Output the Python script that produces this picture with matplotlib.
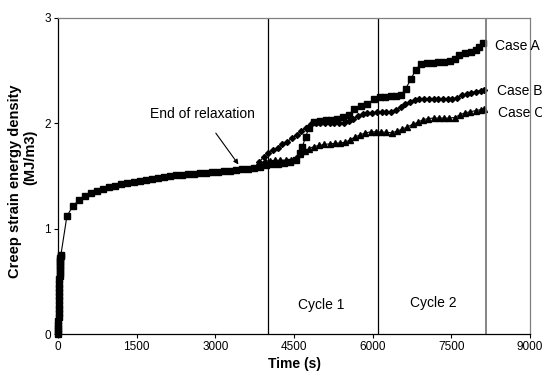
import matplotlib
matplotlib.use('Agg')
import matplotlib.pyplot as plt

plt.rcParams['font.family'] = ['Liberation Sans', 'DejaVu Sans']

# shared part (relaxation + hold), drawn with the Case A squares
t_shared = [0, 2, 4, 6, 8, 10, 12, 14, 16, 18, 20, 22, 24, 26, 28, 30, 32, 34, 36,
            38, 40, 43, 46, 50, 55,
            170, 290, 405, 520, 635, 750, 865, 980, 1095, 1210, 1325, 1440, 1555,
            1670, 1785, 1900, 2015, 2130, 2245, 2360, 2475, 2590, 2705, 2820, 2935,
            3050, 3165, 3280, 3395, 3510, 3625, 3740, 3855, 3970]
y_shared = [0.0, 0.03, 0.06, 0.09, 0.12, 0.16, 0.2, 0.24, 0.28, 0.32, 0.36, 0.4,
            0.44, 0.48, 0.52, 0.55, 0.58, 0.61, 0.64, 0.66, 0.68, 0.70, 0.72, 0.74,
            0.75,
            1.12, 1.22, 1.27, 1.31, 1.34, 1.36, 1.38, 1.40, 1.41, 1.42, 1.43, 1.44,
            1.45, 1.46, 1.47, 1.48, 1.49, 1.50, 1.505, 1.51, 1.515, 1.52, 1.525, 1.53,
            1.535, 1.54, 1.545, 1.55, 1.56, 1.565, 1.57, 1.58, 1.59, 1.60]

t_a = [4085, 4200, 4315, 4430, 4545, 4620, 4660, 4720, 4785, 4880, 4990, 5100, 5210,
       5325, 5440, 5550, 5645, 5770, 5900, 6025, 6130, 6240, 6350, 6450, 6540, 6630,
       6730, 6820, 6920, 7030, 7140, 7250, 7360, 7470, 7560, 7650, 7760, 7870, 7960,
       8030, 8100]
y_a = [1.61, 1.615, 1.62, 1.63, 1.65, 1.72, 1.78, 1.87, 1.96, 2.01, 2.02, 2.03, 2.035,
       2.045, 2.06, 2.08, 2.14, 2.16, 2.18, 2.23, 2.245, 2.25, 2.255, 2.26, 2.27, 2.33,
       2.42, 2.51, 2.56, 2.57, 2.575, 2.58, 2.585, 2.59, 2.61, 2.65, 2.665, 2.68, 2.70,
       2.72, 2.76]

t_b = [3740, 3830, 3920, 4010, 4100, 4190, 4280, 4370, 4460, 4550, 4640, 4730, 4820,
       4910, 5000, 5090, 5180, 5270, 5360, 5450, 5540, 5630, 5720, 5810, 5900, 5990,
       6080, 6170, 6260, 6350, 6440, 6530, 6620, 6710, 6800, 6890, 6980, 7070, 7160,
       7250, 7340, 7430, 7520, 7610, 7700, 7790, 7880, 7970, 8060, 8130]
y_b = [1.58, 1.63, 1.68, 1.715, 1.745, 1.77, 1.80, 1.825, 1.86, 1.89, 1.925, 1.96, 1.99,
       2.0, 2.0, 2.0, 2.0, 2.0, 2.0, 2.005, 2.02, 2.045, 2.07, 2.085, 2.095, 2.1,
       2.105, 2.105, 2.11, 2.11, 2.13, 2.155, 2.18, 2.205, 2.225, 2.23, 2.235, 2.235,
       2.235, 2.235, 2.235, 2.235, 2.235, 2.24, 2.265, 2.28, 2.29, 2.30, 2.31, 2.32]

t_c = [3840, 3940, 4040, 4140, 4240, 4340, 4440, 4540, 4620, 4700, 4790, 4880, 4980,
       5080, 5180, 5280, 5380, 5480, 5570, 5660, 5760, 5860, 5960, 6060, 6160, 6260,
       6360, 6460, 6560, 6660, 6760, 6860, 6960, 7060, 7160, 7260, 7360, 7460, 7560,
       7660, 7760, 7860, 7960, 8060, 8130]
y_c = [1.62, 1.64, 1.645, 1.65, 1.65, 1.65, 1.655, 1.67, 1.71, 1.74, 1.76, 1.78, 1.79,
       1.80, 1.805, 1.81, 1.815, 1.82, 1.845, 1.87, 1.89, 1.91, 1.918, 1.92, 1.918,
       1.915, 1.91, 1.925, 1.945, 1.965, 1.99, 2.01, 2.035, 2.045, 2.05, 2.05, 2.05,
       2.05, 2.055, 2.08, 2.10, 2.11, 2.12, 2.13, 2.14]

cycle_lines = [4000, 6100]
end_line = 8160

fig = plt.figure(figsize=(5.42, 3.81), dpi=100)
ax = fig.add_axes([0.107, 0.123, 0.871, 0.830])

ax.plot(t_c, y_c, color='black', lw=0.8, marker='^', ms=4.2, mec='black', mfc='black')
ax.plot(t_b, y_b, color='black', lw=0.8, marker='D', ms=3, mec='black', mfc='black')
ax.plot(t_shared + t_a, y_shared + y_a, color='black', lw=0.8, marker='s', ms=4,
        mec='black', mfc='black', clip_on=False)

for x in cycle_lines:
    ax.axvline(x, color='black', lw=0.9)
ax.axvline(end_line, color='#707070', lw=1.2)

ax.set_xlim(0, 9000)
ax.set_ylim(0, 3)
ax.set_xticks([0, 1500, 3000, 4500, 6000, 7500, 9000])
ax.set_yticks([0, 1, 2, 3])
ax.tick_params(direction='out', length=3, width=0.8, labelsize=8.5, pad=2)

for s in ['top', 'right']:
    ax.spines[s].set_color('#808080')
for s in ['left', 'bottom']:
    ax.spines[s].set_color('black')
for s in ax.spines.values():
    s.set_linewidth(0.9)

ax.set_xlabel('Time (s)', fontsize=10, fontweight='bold', labelpad=3)
# y title: two lines placed as in the original
fig.text(0.028, 0.524, 'Creep strain energy density', fontsize=10.5, fontweight='bold',
         rotation=90, ha='center', va='center')
fig.text(0.055, 0.588, '(MJ/m3)', fontsize=10.5, fontweight='bold',
         rotation=90, ha='center', va='center')

ax.annotate('End of relaxation', xy=(3440, 1.61), xytext=(2750, 2.085),
            fontsize=10, ha='center', va='center',
            arrowprops=dict(arrowstyle='-|>', color='black', lw=0.8,
                            mutation_scale=7, shrinkA=8, shrinkB=0))

ax.text(5020, 0.28, 'Cycle 1', fontsize=10, ha='center', va='center')
ax.text(7150, 0.30, 'Cycle 2', fontsize=10, ha='center', va='center')

ax.text(8330, 2.73, 'Case A', fontsize=10, va='center', clip_on=False)
ax.text(8365, 2.31, 'Case B', fontsize=10, va='center', clip_on=False)
ax.text(8385, 2.095, 'Case C', fontsize=10, va='center', clip_on=False)

fig.savefig('out.png', dpi=100)
